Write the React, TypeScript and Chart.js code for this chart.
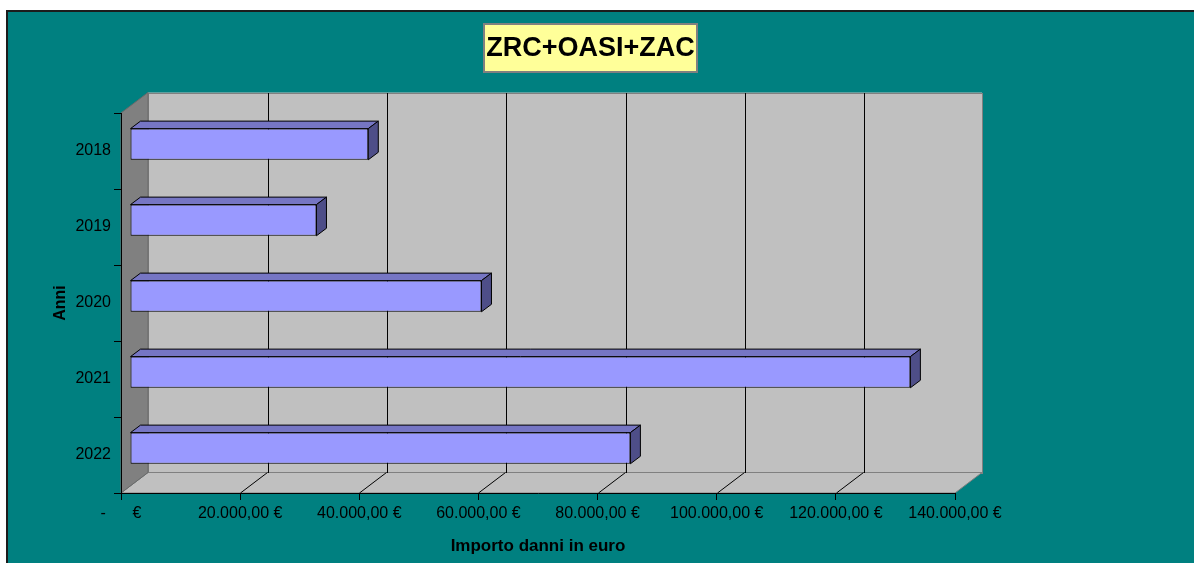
import React, { useEffect, useRef } from "react";
import { Chart, registerables } from "chart.js";

Chart.register(...registerables);

const chartTitle = "ZRC+OASI+ZAC";
const years = ["2018", "2019", "2020", "2021", "2022"];
const damages = [40000, 31300, 59000, 131000, 84000];
const xTickValues = [0, 20000, 40000, 60000, 80000, 100000, 120000, 140000];
const xTickLabels = [
  "-      €",
  "20.000,00 €",
  "40.000,00 €",
  "60.000,00 €",
  "80.000,00 €",
  "100.000,00 €",
  "120.000,00 €",
  "140.000,00 €",
];
const xAxisTitle = "Importo danni in euro";
const yAxisTitle = "Anni";

const FONT = '"Liberation Sans", Arial, Helvetica, sans-serif';
const DX = 27;
const DY = 20.5;
const BAR_SHIFT_X = 9;
const BAR_SHIFT_Y = 6.8;
const BAR_DX = 10;
const BAR_DY = 7.5;

function poly(ctx: CanvasRenderingContext2D, pts: number[][], fill: string | null, stroke: string | null) {
  ctx.beginPath();
  pts.forEach((p, i) => (i === 0 ? ctx.moveTo(p[0], p[1]) : ctx.lineTo(p[0], p[1])));
  ctx.closePath();
  if (fill) {
    ctx.fillStyle = fill;
    ctx.fill();
  }
  if (stroke) {
    ctx.strokeStyle = stroke;
    ctx.lineWidth = 1;
    ctx.stroke();
  }
}

function line(ctx: CanvasRenderingContext2D, x1: number, y1: number, x2: number, y2: number, color: string) {
  ctx.beginPath();
  ctx.moveTo(x1, y1);
  ctx.lineTo(x2, y2);
  ctx.strokeStyle = color;
  ctx.lineWidth = 1;
  ctx.stroke();
}

const scenePlugin = {
  id: "scene3d",
  beforeDraw(chart: any) {
    const { ctx, width, height, chartArea: a } = chart;
    ctx.save();
    ctx.fillStyle = "#ffffff";
    ctx.fillRect(0, 0, width, height);
    ctx.fillStyle = "#008080";
    ctx.fillRect(6, 10, width - 6, height - 10);
    ctx.fillStyle = "#1c1c1c";
    ctx.fillRect(6, 10, width - 6, 2);
    ctx.fillRect(6, 10, 2, height - 10);

    const L = a.left, R = a.right, T = a.top, B = a.bottom;
    // back wall
    ctx.fillStyle = "#C0C0C0";
    ctx.fillRect(L + DX, T - DY, R - L, B - T);
    ctx.strokeStyle = "#808080";
    ctx.lineWidth = 1;
    ctx.strokeRect(Math.round(L + DX) + 0.5, Math.round(T - DY) + 0.5, R - L, B - T);
    // floor
    poly(ctx, [[L, B], [R, B], [R + DX, B - DY], [L + DX, B - DY]], "#C0C0C0", "#808080");
    // left wall
    poly(ctx, [[L, T], [L + DX, T - DY], [L + DX, B - DY], [L, B]], "#808080", "#6a6a6a");

    // 3D grid lines
    const xs = chart.scales.x;
    xTickValues.forEach((v) => {
      if (v <= xs.min || v >= xs.max) return;
      const p = Math.round(xs.getPixelForValue(v)) + 0.5;
      line(ctx, p, B, p + DX, B - DY, "#000");
      const bx = Math.round(p + DX) + 0.5;
      line(ctx, bx, Math.round(B - DY), bx, Math.round(T - DY), "#000");
    });

    // title box
    const bx = 483, by = 23, bw = 215, bh = 50;
    ctx.fillStyle = "#FFFF99";
    ctx.fillRect(bx, by, bw, bh);
    ctx.strokeStyle = "#808080";
    ctx.lineWidth = 2;
    ctx.strokeRect(bx + 1, by + 1, bw - 2, bh - 2);
    ctx.fillStyle = "#000";
    ctx.font = `bold 27px ${FONT}`;
    ctx.textAlign = "center";
    ctx.textBaseline = "middle";
    ctx.fillText(chartTitle, bx + bw / 2, by + bh / 2 + 1);
    ctx.restore();
  },
  beforeDatasetsDraw(chart: any) {
    chart.ctx.save();
    chart.ctx.translate(BAR_SHIFT_X, -BAR_SHIFT_Y);
  },
  afterDatasetsDraw(chart: any) {
    const { ctx } = chart;
    const meta = chart.getDatasetMeta(0);
    meta.data.forEach((el: any) => {
      const { x, y, base, height } = el.getProps(["x", "y", "base", "height"], true);
      const top = y - height / 2;
      const bottom = y + height / 2;
      poly(ctx, [[base, top], [x, top], [x + BAR_DX, top - BAR_DY], [base + BAR_DX, top - BAR_DY]], "#7676C4", "#000");
      poly(ctx, [[x, top], [x + BAR_DX, top - BAR_DY], [x + BAR_DX, bottom - BAR_DY], [x, bottom]], "#4E4E88", "#000");
    });
    ctx.restore();
  },
};

export default function App() {
  const ref = useRef<HTMLCanvasElement | null>(null);

  useEffect(() => {
    if (!ref.current) return;
    const chart = new Chart(ref.current, {
      type: "bar",
      data: {
        labels: years,
        datasets: [
          {
            data: damages,
            backgroundColor: "#9999FF",
            borderColor: "#000000",
            borderWidth: 1,
            borderSkipped: false,
            barPercentage: 0.41,
            categoryPercentage: 1,
          },
        ],
      },
      options: {
        indexAxis: "y",
        responsive: false,
        animation: false,
        devicePixelRatio: 1,
        layout: { padding: { left: 0, top: 113, right: 239, bottom: 0 } },
        plugins: {
          legend: { display: false },
          tooltip: { enabled: false },
          title: { display: false },
        },
        scales: {
          x: {
            type: "linear",
            position: "bottom",
            min: 0,
            max: 140000,
            afterFit: (s: any) => {
              s.height = 70;
            },
            ticks: {
              stepSize: 20000,
              autoSkip: false,
              maxRotation: 0,
              padding: 4,
              color: "#000",
              font: { family: FONT, size: 16 },
              callback: (_v: any, i: number) => xTickLabels[i],
            },
            grid: { drawOnChartArea: false, drawTicks: true, tickLength: 7, color: "#000" },
            border: { display: true, color: "#000", width: 1 },
            title: {
              display: true,
              text: xAxisTitle,
              color: "#000",
              font: { family: FONT, size: 17, weight: "bold" },
              padding: { top: 0, bottom: 6 },
            },
          },
          y: {
            type: "category",
            afterFit: (s: any) => {
              s.width = 121;
            },
            ticks: {
              padding: 3,
              color: "#000",
              font: { family: FONT, size: 16 },
            },
            grid: { drawOnChartArea: false, drawTicks: true, tickLength: 7, color: "#000", offset: true },
            border: { display: true, color: "#000", width: 1 },
            title: {
              display: true,
              text: yAxisTitle,
              color: "#000",
              font: { family: FONT, size: 16, weight: "bold" },
              padding: { top: 51, bottom: 0 },
            },
          },
        },
      },
      plugins: [scenePlugin],
    } as any);
    return () => chart.destroy();
  }, []);

  return (
    <div style={{ position: "absolute", left: 0, top: 0, width: 1194, height: 563, overflow: "hidden" }}>
      <canvas ref={ref} width={1194} height={563} style={{ display: "block", width: 1194, height: 563 }} />
    </div>
  );
}
